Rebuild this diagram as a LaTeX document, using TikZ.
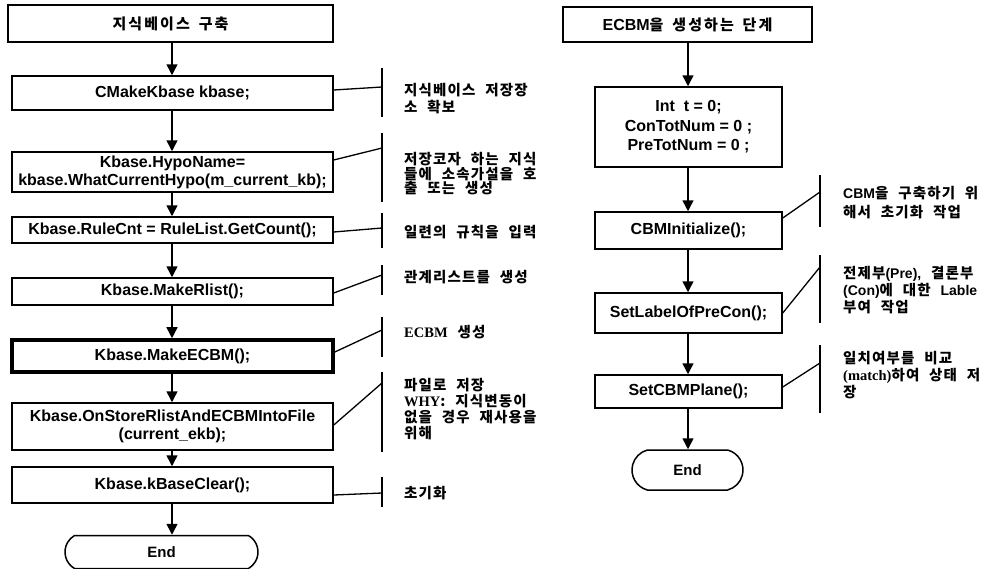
\documentclass[tikz,border=0pt]{standalone}
\usepackage{fontspec}
\setmainfont{Liberation Sans}
\newfontfamily\krbox{Noto Sans CJK KR}[LetterSpace=14,WordSpace=1.6]
\newfontfamily\krann{Noto Sans CJK KR}[LetterSpace=8,WordSpace=2.2]
\newfontfamily\serifb{Liberation Serif}
\newfontfamily\sansb{Liberation Sans}
\usetikzlibrary{arrows.meta,shapes.misc,calc}
\newcommand\kb[1]{{\krbox\fontsize{15}{18}\selectfont\bfseries #1}}
\newcommand\lt[1]{{\sansb\bfseries\fontsize{14}{17}\selectfont #1}}
\newcommand\sr[1]{{\serifb\bfseries\fontsize{14.5}{17}\selectfont #1}}
\begin{document}
\begin{tikzpicture}[x=1pt,y=-1pt,
  box/.style={draw, line width=1.5pt, inner sep=0pt, align=center,
    font=\sansb\fontsize{16}{18}\selectfont\bfseries},
  thickbox/.style={box, line width=3.6pt},
  term/.style={draw, line width=1.5pt, rounded rectangle,
    rounded rectangle arc length=120, inner sep=0pt,
    font=\sansb\fontsize{15}{17}\selectfont\bfseries},
  flow/.style={line width=1.5pt, -{Triangle[length=11pt,width=11pt]}},
  bracket/.style={line width=1.3pt},
  note/.style={anchor=west, align=left, inner sep=0pt,
    font=\krann\fontsize{14.5}{17}\selectfont\bfseries},
]
\useasboundingbox (0,0) rectangle (991,568);

% ---------- left column ----------
\node[box, minimum width=325pt, minimum height=37pt] (b1) at (170.5,23.5) {\kb{지식베이스 구축}};
\node[box, minimum width=321pt, minimum height=34pt] (b2) at (172.5,93) {CMakeKbase kbase;};
\node[box, minimum width=321pt, minimum height=40pt] (b3) at (172.5,172) {Kbase.HypoName=\\kbase.WhatCurrentHypo(m\_current\_kb);};
\node[box, minimum width=321pt, minimum height=26pt] (b4) at (172.5,230) {Kbase.RuleCnt = RuleList.GetCount();};
\node[box, minimum width=321pt, minimum height=27pt] (b5) at (172.5,291.5) {Kbase.MakeRlist();};
\node[thickbox, minimum width=321pt, minimum height=32pt] (b6) at (172.5,356) {Kbase.MakeECBM();};
\node[box, minimum width=321pt, minimum height=47pt] (b7) at (172.5,426.5) {Kbase.OnStoreRlistAndECBMIntoFile\\(current\_ekb);};
\node[box, minimum width=321pt, minimum height=36pt] (b8) at (172.5,485) {Kbase.kBaseClear();};
\node[term, minimum width=193pt, minimum height=33pt] (endl) at (161.5,552) {End};

\draw[flow] (b1.south -| 172,0) -- (b2.north -| 172,0);
\draw[flow] (b2.south -| 172,0) -- (b3.north -| 172,0);
\draw[flow] (b3.south -| 172,0) -- (b4.north -| 172,0);
\draw[flow] (b4.south -| 172,0) -- (b5.north -| 172,0);
\draw[flow] (b5.south -| 172,0) -- (b6.north -| 172,0);
\draw[flow] (b6.south -| 172,0) -- (b7.north -| 172,0);
\draw[flow] (b7.south -| 172,0) -- (b8.north -| 172,0);
\draw[flow] (b8.south -| 172,0) -- (endl.north -| 172,0);

% left annotations
\coordinate (k1t) at (382,68);  \coordinate (k1b) at (382,117); \coordinate (k1m) at (382,87);
\coordinate (k2t) at (382,133); \coordinate (k2b) at (382,202); \coordinate (k2m) at (382,148);
\coordinate (k3t) at (382,213); \coordinate (k3b) at (382,248); \coordinate (k3m) at (382,228);
\coordinate (k4t) at (382,265); \coordinate (k4b) at (382,295); \coordinate (k4m) at (382,275);
\coordinate (k5t) at (382,317); \coordinate (k5b) at (382,357); \coordinate (k5m) at (382,330);
\coordinate (k6t) at (382,372); \coordinate (k6b) at (382,452); \coordinate (k6m) at (382,383);
\coordinate (k7t) at (382,477); \coordinate (k7b) at (382,507); \coordinate (k7m) at (382,493);
\foreach \i in {1,...,7} {\draw[bracket] (k\i t) -- (k\i b);}
\draw[bracket] ($(b2.east)+(0,-3)$) -- (k1m);
\draw[bracket] ($(b3.east)+(0,-12)$) -- (k2m);
\draw[bracket] ($(b4.east)+(0,2)$) -- (k3m);
\draw[bracket] ($(b5.east)+(0,1.5)$) -- (k4m);
\draw[bracket] ($(b6.east)+(0,-4)$) -- (k5m);
\draw[bracket] ($(b7.east)+(0,-1.5)$) -- (k6m);
\draw[bracket] ($(b8.east)+(0,10)$) -- (k7m);

\node[note] (n1) at (404,98.5) {지식베이스 저장장\\소 확보};
\node[note, font=\krann\fontsize{14.5}{14.5}\selectfont\bfseries] (n2) at (404,174) {저장코자 하는 지식\\들에 소속가설을 호\\출 또는 생성};
\node[note] (n3) at (404,232) {일련의 규칙을 입력};
\node[note] (n4) at (404,277) {관계리스트를 생성};
\node[note] (n5) at (404,332) {\sr{ECBM} 생성};
\node[note, font=\krann\fontsize{14.5}{16}\selectfont\bfseries] (n6) at (404,409) {파일로 저장\\\sr{WHY}: 지식변동이\\없을 경우 재사용을\\위해};
\node[note] (n7) at (404,493) {초기화};

% ---------- right column ----------
\node[box, minimum width=249pt, minimum height=35pt] (r1) at (687.5,24.5) {ECBM\kb{을 생성하는 단계}};
\node[box, minimum width=187pt, minimum height=80pt, font=\sansb\fontsize{16}{19.5}\selectfont\bfseries] (r2) at (688.5,127) {Int\ \ t = 0;\\ConTotNum = 0 ;\\PreTotNum = 0 ;};
\node[box, minimum width=187pt, minimum height=37pt] (r3) at (688.5,230.5) {CBMInitialize();};
\node[box, minimum width=187pt, minimum height=40pt] (r4) at (688.5,313) {SetLabelOfPreCon();};
\node[box, minimum width=187pt, minimum height=33pt] (r5) at (688.5,391.5) {SetCBMPlane();};
\node[term, rounded rectangle arc length=150, minimum width=111pt, minimum height=40pt] (endr) at (687.5,470) {End};

\draw[flow] (r1.south -| 688,0) -- (r2.north -| 688,0);
\draw[flow] (r2.south -| 688,0) -- (r3.north -| 688,0);
\draw[flow] (r3.south -| 688,0) -- (r4.north -| 688,0);
\draw[flow] (r4.south -| 688,0) -- (r5.north -| 688,0);
\draw[flow] (r5.south -| 688,0) -- (endr.north -| 688,0);

\coordinate (q1t) at (820,175); \coordinate (q1b) at (820,227); \coordinate (q1m) at (820,192);
\coordinate (q2t) at (820,255); \coordinate (q2b) at (820,323); \coordinate (q2m) at (820,267);
\coordinate (q3t) at (820,345); \coordinate (q3b) at (820,413); \coordinate (q3m) at (820,363);
\foreach \i in {1,2,3} {\draw[bracket] (q\i t) -- (q\i b);}
\draw[bracket] ($(r3.east)+(0,-12.5)$) -- (q1m);
\draw[bracket] ($(r4.east)+(0,0)$) -- (q2m);
\draw[bracket] ($(r5.east)+(0,-4.5)$) -- (q3m);

\node[note, font=\krann\fontsize{14.5}{19}\selectfont\bfseries] (m1) at (843,203) {\lt{CBM}을 구축하기 위\\해서 초기화 작업};
\node[note] (m2) at (843,290) {전제부\lt{(Pre),} 결론부\\\lt{(Con)}에 대한 \lt{Lable}\\부여 작업};
\node[note] (m3) at (843,375) {일치여부를 비교\\\sr{(match)}하여 상태 저\\장};
\end{tikzpicture}
\end{document}
